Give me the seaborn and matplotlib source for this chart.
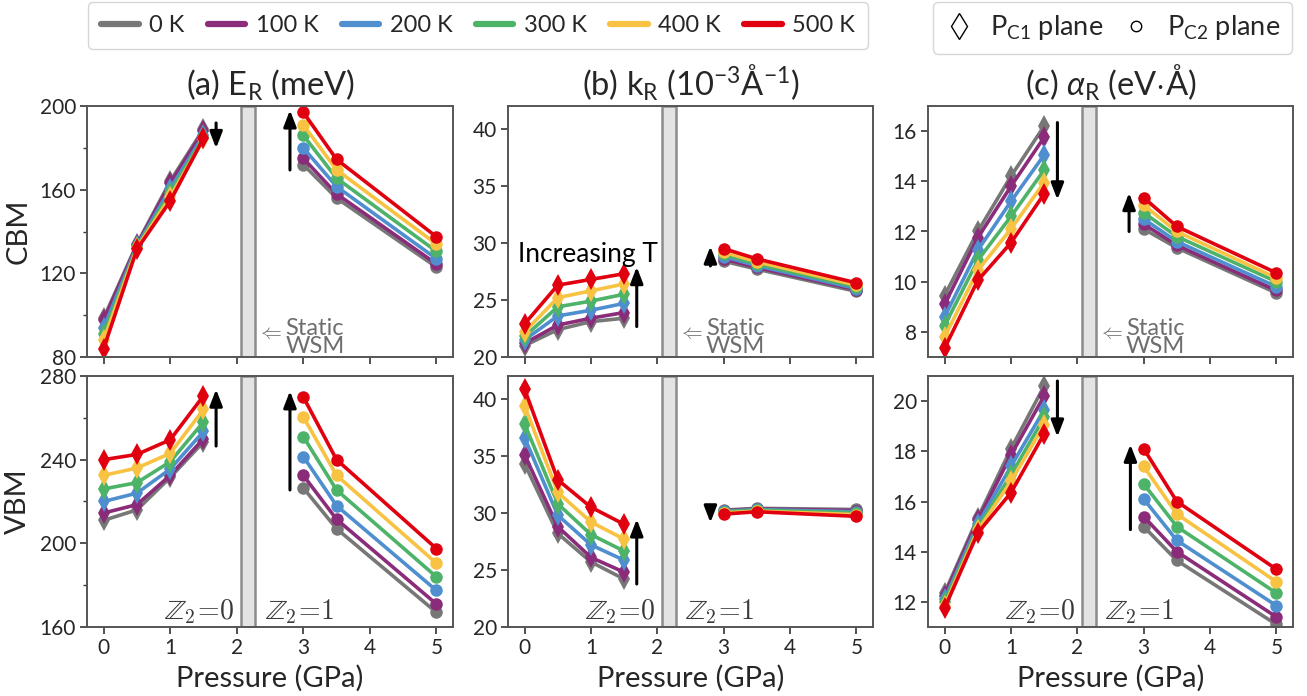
import matplotlib
matplotlib.use("Agg")
import matplotlib.pyplot as plt
import matplotlib.transforms as mtransforms
from matplotlib.lines import Line2D
import pandas as pd
import seaborn as sns

# ---------------------------------------------------------------- data
temperatures = ["0 K", "100 K", "200 K", "300 K", "400 K", "500 K"]
temp_colors = ["#777777", "#8a2c7a", "#4f8fcf", "#4db368", "#f8c243", "#e0000f"]

pressure_c1 = [0, 0.5, 1, 1.5]      # P_C1 plane (Z2 = 0 side)
pressure_c2 = [3, 3.5, 5]           # P_C2 plane (Z2 = 1 side)

# Rashba energy E_R (meV); one row per temperature
er_cbm_c1 = [[98.5, 134.0, 164.0, 189.0], [97.5, 133.5, 163.0, 188.0],
             [94.0, 133.0, 160.5, 186.0], [91.0, 132.5, 158.5, 185.0],
             [88.0, 132.0, 156.5, 184.0], [84.0, 131.5, 154.5, 184.5]]
er_cbm_c2 = [[172.0, 156.0, 123.0], [175.0, 158.0, 124.5],
             [180.0, 161.5, 127.0], [186.0, 165.5, 130.5],
             [191.0, 169.5, 134.0], [197.0, 174.5, 137.5]]
er_vbm_c1 = [[211.0, 216.0, 231.5, 248.5], [214.5, 218.5, 232.5, 250.0],
             [220.0, 224.0, 235.5, 253.5], [226.0, 229.0, 239.0, 258.0],
             [232.5, 236.0, 243.0, 264.0], [240.0, 242.5, 249.5, 270.5]]
er_vbm_c2 = [[226.5, 207.0, 167.0], [232.5, 211.5, 171.0],
             [241.5, 218.0, 177.5], [251.0, 225.5, 184.0],
             [260.5, 232.5, 190.5], [270.0, 240.0, 197.5]]

# Rashba momentum offset k_R (10^-3 1/Angstrom)
kr_cbm_c1 = [[21.0, 22.4, 23.1, 23.4], [21.2, 22.8, 23.4, 23.9],
             [21.5, 23.6, 24.1, 24.7], [21.8, 24.4, 24.9, 25.5],
             [22.2, 25.2, 25.8, 26.4], [22.9, 26.3, 26.8, 27.3]]
kr_cbm_c2 = [[28.4, 27.7, 25.75], [28.6, 27.85, 25.9],
             [28.8, 28.0, 26.0], [29.0, 28.15, 26.15],
             [29.2, 28.35, 26.3], [29.5, 28.6, 26.5]]
kr_vbm_c1 = [[34.3, 28.2, 25.7, 24.2], [35.1, 28.8, 26.1, 24.8],
             [36.6, 29.8, 27.2, 25.85], [37.8, 30.8, 28.1, 26.65],
             [39.4, 31.8, 29.2, 27.7], [40.85, 32.9, 30.5, 29.0]]
kr_vbm_c2 = [[30.25, 30.4, 30.3], [30.2, 30.35, 30.2],
             [30.15, 30.3, 30.1], [30.1, 30.25, 30.0],
             [30.0, 30.15, 29.85], [29.9, 30.1, 29.7]]

# Rashba coefficient alpha_R (eV*Angstrom)
ar_cbm_c1 = [[9.45, 12.0, 14.2, 16.2], [9.1, 11.75, 13.8, 15.75],
             [8.6, 11.25, 13.2, 15.05], [8.25, 10.85, 12.6, 14.45],
             [7.8, 10.45, 12.1, 13.95], [7.35, 10.05, 11.55, 13.5]]
ar_cbm_c2 = [[12.1, 11.35, 9.55], [12.3, 11.45, 9.65],
             [12.5, 11.6, 9.8], [12.75, 11.8, 10.0],
             [13.05, 12.0, 10.15], [13.35, 12.2, 10.35]]
ar_vbm_c1 = [[12.35, 15.35, 18.1, 20.6], [12.25, 15.25, 17.85, 20.2],
             [12.1, 15.1, 17.4, 19.65], [12.0, 14.95, 17.05, 19.35],
             [11.85, 14.85, 16.8, 19.05], [11.75, 14.75, 16.35, 18.7]]
ar_vbm_c2 = [[15.0, 13.65, 11.1], [15.4, 14.0, 11.4],
             [16.1, 14.45, 11.85], [16.7, 15.0, 12.35],
             [17.4, 15.5, 12.8], [18.1, 16.0, 13.3]]

col_titles = [r"(a) E$_{\rm R}$ (meV)",
              r"(b) k$_{\rm R}$ (10$^{-3}$Å$^{-1}$)",
              r"(c) $\alpha_{\rm R}$ (eV$\cdot$Å)"]
row_labels = ["CBM", "VBM"]
x_label = "Pressure (GPa)"
plane_labels = [r"P$_{\rm C1}$ plane", r"P$_{\rm C2}$ plane"]

# (c1 data, c2 data, ylim, yticks, minor step, arrows) per panel
panels = [
    [(er_cbm_c1, er_cbm_c2, (80, 200), [80, 120, 160, 200], 20,
      [(1.69, 191.9, 179.8), (2.8, 169.4, 198.0)]),
     (kr_cbm_c1, kr_cbm_c2, (20, 42), [20, 25, 30, 35, 40], None,
      [(1.69, 22.67, 27.9), (2.8, 27.98, 29.7)]),
     (ar_cbm_c1, ar_cbm_c2, (7, 17), [8, 10, 12, 14, 16], None,
      [(1.70, 16.34, 13.27), (2.78, 12.0, 13.54)])],
    [(er_vbm_c1, er_vbm_c2, (160, 280), [160, 200, 240, 280], 20,
      [(1.69, 246.5, 273.6), (2.8, 225.5, 272.8)]),
     (kr_vbm_c1, kr_vbm_c2, (20, 42), [20, 25, 30, 35, 40], None,
      [(1.69, 23.77, 29.45), (2.8, 30.6, 29.15)]),
     (ar_vbm_c1, ar_vbm_c2, (11, 21), [12, 14, 16, 18, 20], None,
      [(1.70, 20.8, 18.58), (2.8, 14.88, 18.27)])],
]


def long_frame(pressures, rows):
    recs = [(p, v, t) for t, row in zip(temperatures, rows)
            for p, v in zip(pressures, row)]
    return pd.DataFrame(recs, columns=["pressure", "value", "T"])


# ---------------------------------------------------------------- style
sns.set_style("white")
plt.rcParams["font.family"] = ["Lato", "DejaVu Sans"]
plt.rcParams["mathtext.fontset"] = "custom"
plt.rcParams["mathtext.rm"] = "Lato"
plt.rcParams["mathtext.it"] = "Lato:italic"
plt.rcParams["mathtext.bf"] = "Lato:bold"
plt.rcParams["mathtext.sf"] = "Lato"

W, H = 1307, 696
fig = plt.figure(figsize=(W / 100, H / 100), dpi=100)

col_px = [(87, 453), (508, 873), (928, 1293)]
row_px = [(106, 357), (376, 627)]

spine_col = "#555555"
note_col = "#6e6e6e"

for r, row in enumerate(panels):
    for c, (d1, d2, ylim, yticks, minor, arrows) in enumerate(row):
        x0, x1 = col_px[c]
        y0, y1 = row_px[r]
        ax = fig.add_axes([x0 / W, 1 - y1 / H, (x1 - x0) / W, (y1 - y0) / H])

        ax.axvspan(2.07, 2.28, facecolor="#e3e3e3", edgecolor="#8c8c8c",
                   lw=1.8, zorder=0)

        sns.lineplot(data=long_frame(pressure_c1, d1), x="pressure", y="value",
                     hue="T", hue_order=temperatures, palette=temp_colors,
                     marker="d", markersize=11, markeredgewidth=0,
                     linewidth=2.6, errorbar=None, legend=False, ax=ax)
        sns.lineplot(data=long_frame(pressure_c2, d2), x="pressure", y="value",
                     hue="T", hue_order=temperatures, palette=temp_colors,
                     marker="o", markersize=9, markeredgewidth=0,
                     linewidth=2.6, errorbar=None, legend=False, ax=ax)

        for (xa, ytail, ytip) in arrows:
            ax.annotate("", xy=(xa, ytip), xytext=(xa, ytail),
                        arrowprops=dict(arrowstyle="-|>,head_width=0.27,head_length=0.7",
                                        color="k", lw=2.2, shrinkA=0, shrinkB=0,
                                        mutation_scale=14))

        ax.set_xlim(-0.25, 5.25)
        ax.set_xticks(range(6))
        ax.set_ylim(*ylim)
        ax.set_yticks(yticks)
        if minor:
            ax.set_yticks(range(ylim[0] + minor, ylim[1], 2 * minor), minor=True)
        ax.tick_params(which="major", direction="out", length=5, width=1.2,
                       color="#333333", labelsize=15, pad=3,
                       bottom=True, left=True)
        ax.tick_params(which="minor", direction="out", length=3, width=1.0,
                       color="#333333", left=True)
        for s in ax.spines.values():
            s.set_color(spine_col)
            s.set_linewidth(1.4)
        ax.set_xlabel("")
        ax.set_ylabel("")

        blend = mtransforms.blended_transform_factory(ax.transData, ax.transAxes)
        if r == 0:
            ax.set_xticklabels([])
            ax.set_title(col_titles[c], fontsize=23.5, pad=7)
            ax.text(2.31, 0.072, r"$\Leftarrow$", transform=blend, fontsize=15,
                    color=note_col, math_fontfamily="cm", ha="left",
                    va="baseline")
            ax.text(2.73, 0.015, "Static\nWSM", transform=blend, fontsize=17,
                    color=note_col, ha="left", va="baseline",
                    linespacing=0.85)
            if c == 1:
                ax.text(-0.095, 28.33, "Increasing T", fontsize=19,
                        color="k", ha="left", va="baseline")
        else:
            ax.set_xlabel(x_label, fontsize=21, labelpad=5)
            ax.text(1.97, 0.03, r"$\mathbb{Z}_2\!=\!0$", transform=blend,
                    fontsize=20, color="#3a3a3a", ha="right", va="baseline",
                    math_fontfamily="cm")
            ax.text(2.42, 0.03, r"$\mathbb{Z}_2\!=\!1$", transform=blend,
                    fontsize=20, color="#3a3a3a", ha="left", va="baseline",
                    math_fontfamily="cm")
        if c == 0:
            ax.set_ylabel(row_labels[r], fontsize=21, labelpad=6)

# ---------------------------------------------------------------- legends
temp_handles = [Line2D([], [], color=col, lw=4.5) for col in temp_colors]
leg1 = fig.legend(temp_handles, temperatures, loc="upper left",
                  bbox_to_anchor=(88 / W, 1 - 52 / H, 780 / W, 50 / H),
                  mode="expand", ncol=6, fontsize=17,
                  frameon=True, fancybox=True, edgecolor="#cccccc",
                  handlelength=1.6, handletextpad=0.45, columnspacing=0.7,
                  borderpad=0.55, borderaxespad=0)
leg1.get_frame().set_linewidth(1.0)

plane_handles = [Line2D([], [], ls="none", marker="d", ms=13, mfc="none",
                        mec="k", mew=1.0),
                 Line2D([], [], ls="none", marker="o", ms=7.5, mfc="none",
                        mec="k", mew=1.0)]
leg2 = fig.legend(plane_handles, plane_labels,
                  loc="upper left",
                  bbox_to_anchor=(933 / W, 1 - 52 / H, 359 / W, 50 / H),
                  mode="expand", ncol=2, fontsize=19.5, frameon=True,
                  fancybox=True, edgecolor="#cccccc", handlelength=1.1,
                  handletextpad=0.6, columnspacing=0.5, borderpad=0.42,
                  borderaxespad=0)
leg2.get_frame().set_linewidth(1.0)

fig.savefig("out.png", dpi=100)
